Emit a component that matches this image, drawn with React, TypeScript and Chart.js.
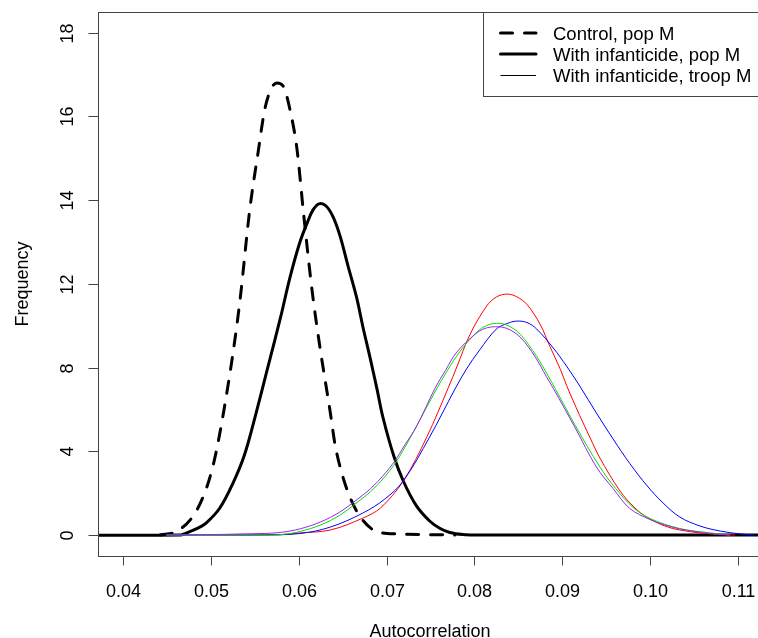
import { useEffect, useRef } from "react";
import { Chart, registerables } from "chart.js";

Chart.register(...registerables);

// ---- axis ticks ----
const xTicks = [0.04, 0.05, 0.06, 0.07, 0.08, 0.09, 0.1, 0.11];
const yTickLabels = [0, 4, 8, 12, 14, 16, 18];
const xTitle = "Autocorrelation";
const yTitle = "Frequency";
const legendLabels = ["Control, pop M", "With infanticide, pop M", "With infanticide, troop M"];

// ---- series (x = autocorrelation, y = frequency as labelled on the axis) ----
const controlX = [0.0442, 0.046, 0.0479, 0.0491, 0.05, 0.0506, 0.0514, 0.0525, 0.0533, 0.0544, 0.0554, 0.0561, 0.0569, 0.0575, 0.0582, 0.059, 0.0598, 0.0605, 0.0615, 0.0624, 0.0636, 0.0641, 0.0649, 0.0658, 0.067, 0.0689, 0.0712, 0.0778];
const controlY = [0, 0.16, 0.87, 1.83, 2.95, 4.01, 5.81, 8.7, 11.23, 13.76, 15.2, 16.15, 16.68, 16.8, 16.73, 16.15, 15.2, 13.76, 11.71, 8.98, 5.81, 4.38, 2.95, 1.83, 0.87, 0.16, 0.05, 0];

const popX = [0.03, 0.0465, 0.0471, 0.0483, 0.0494, 0.051, 0.0525, 0.0538, 0.0551, 0.0565, 0.0579, 0.059, 0.0601, 0.061, 0.0616, 0.0623, 0.0631, 0.0639, 0.0647, 0.0656, 0.0666, 0.0673, 0.0681, 0.0689, 0.0696, 0.0708, 0.0719, 0.0734, 0.0749, 0.0761, 0.0772, 0.0787, 0.0801, 0.12];
const popY = [0, 0, 0.08, 0.29, 0.56, 1.29, 2.48, 3.82, 5.78, 8.07, 10.37, 12.16, 12.98, 13.48, 13.76, 13.91, 13.86, 13.6, 13.14, 12.43, 11.32, 9.94, 8.5, 6.98, 5.59, 3.8, 2.58, 1.39, 0.67, 0.31, 0.12, 0.02, 0, 0];

const redX = [0.0449, 0.0579, 0.0601, 0.0636, 0.0673, 0.0693, 0.0719, 0.0746, 0.077, 0.078, 0.0795, 0.0814, 0.0825, 0.0837, 0.0848, 0.086, 0.0875, 0.0886, 0.0898, 0.0905, 0.092, 0.0932, 0.0943, 0.0966, 0.0983, 0.0997, 0.1017, 0.1034, 0.1057, 0.108, 0.1097];
const redY = [0, 0.02, 0.1, 0.24, 0.81, 1.29, 2.58, 4.7, 7.01, 8.03, 9.58, 10.94, 11.37, 11.51, 11.39, 11.01, 10.06, 9.01, 7.91, 7.15, 5.71, 4.63, 3.68, 2.1, 1.29, 0.84, 0.43, 0.24, 0.1, 0.02, 0];

const blueX = [0.0449, 0.0556, 0.0601, 0.0636, 0.0673, 0.0698, 0.0719, 0.0749, 0.0778, 0.0791, 0.0806, 0.0825, 0.0837, 0.0848, 0.086, 0.0871, 0.089, 0.0905, 0.092, 0.0939, 0.0958, 0.0977, 0.0997, 0.1015, 0.1034, 0.1057, 0.108, 0.1103, 0.112];
const blueY = [0, 0, 0.07, 0.38, 1.05, 1.72, 2.58, 4.68, 6.98, 7.93, 8.84, 9.84, 10.1, 10.22, 10.15, 9.84, 8.93, 8.07, 7.12, 5.83, 4.59, 3.42, 2.34, 1.53, 0.86, 0.43, 0.19, 0.05, 0];

const greenX = [0.0449, 0.0544, 0.059, 0.0636, 0.0673, 0.069, 0.0708, 0.0721, 0.0732, 0.0757, 0.0769, 0.0784, 0.0803, 0.0814, 0.0825, 0.0837, 0.0852, 0.0871, 0.0884, 0.0892, 0.0915, 0.0943, 0.0961, 0.0981, 0.1, 0.1034, 0.1069, 0.1091];
const greenY = [0, 0, 0.07, 0.69, 1.77, 2.41, 3.32, 4.2, 5.04, 6.98, 7.84, 8.79, 9.7, 10.01, 10.11, 10.03, 9.6, 8.53, 7.6, 7.0, 5.23, 3.25, 2.22, 1.31, 0.79, 0.31, 0.1, 0];

const purpleX = [0.0449, 0.0533, 0.059, 0.0636, 0.0673, 0.069, 0.0708, 0.0721, 0.0734, 0.0755, 0.0767, 0.078, 0.0801, 0.0812, 0.0824, 0.0837, 0.0852, 0.0869, 0.0882, 0.089, 0.0915, 0.0939, 0.0958, 0.0977, 0.1, 0.1017, 0.1034, 0.1069, 0.1091];
const purpleY = [0, 0.05, 0.19, 0.84, 1.91, 2.56, 3.46, 4.32, 5.18, 7.0, 7.86, 8.74, 9.6, 9.87, 9.95, 9.87, 9.46, 8.53, 7.57, 7.0, 5.11, 3.25, 2.22, 1.27, 0.74, 0.48, 0.29, 0.07, 0];

// The frequency axis is drawn with evenly spaced ticks labelled 0,4,8,12,14,16,18
function yToAxis(f: number): number {
  return f <= 12 ? f / 4 : 3 + (f - 12) / 2;
}

function pts(xs: number[], ys: number[]) {
  return xs.map((x, i) => ({ x, y: yToAxis(ys[i]) }));
}

const FONT = '18px "Liberation Sans", Arial, sans-serif';
const AXIS_COLOR = "#444";

const framePlugin = {
  id: "rframe",
  afterDraw(chart: any) {
    const { ctx, chartArea: a, scales } = chart;
    const xs = scales.x;
    const ys = scales.y;
    ctx.save();
    ctx.strokeStyle = AXIS_COLOR;
    ctx.lineWidth = 1;
    ctx.setLineDash([]);
    const L = Math.round(a.left) + 0.5;
    const T = Math.round(a.top) + 0.5;
    const R = Math.round(a.right) + 0.5;
    const B = Math.round(a.bottom) + 0.5;
    ctx.strokeRect(L, T, R - L, B - T);

    ctx.font = FONT;
    ctx.fillStyle = "#000";
    ctx.textAlign = "center";
    ctx.textBaseline = "alphabetic";

    // x ticks
    xTicks.forEach((v) => {
      const px = Math.round(xs.getPixelForValue(v)) + 0.5;
      ctx.beginPath();
      ctx.moveTo(px, B);
      ctx.lineTo(px, B + 9);
      ctx.stroke();
      ctx.fillText(v.toFixed(2), px, B + 40.5);
    });
    ctx.fillText(xTitle, (a.left + a.right) / 2, 637);

    // y ticks
    yTickLabels.forEach((v) => {
      const py = Math.round(ys.getPixelForValue(yToAxis(v))) + 0.5;
      ctx.beginPath();
      ctx.moveTo(L - 10, py);
      ctx.lineTo(L, py);
      ctx.stroke();
      ctx.save();
      ctx.translate(73, py);
      ctx.rotate(-Math.PI / 2);
      ctx.fillText(String(v), 0, 0);
      ctx.restore();
    });
    ctx.save();
    ctx.translate(28, (a.top + a.bottom) / 2);
    ctx.rotate(-Math.PI / 2);
    ctx.fillText(yTitle, 0, 0);
    ctx.restore();

    // legend
    const lx = 483.5;
    const ly = 12.5;
    ctx.fillStyle = "#fff";
    ctx.fillRect(lx, ly, 400, 84);
    ctx.strokeStyle = AXIS_COLOR;
    ctx.strokeRect(lx, ly, 400, 84);
    const rows = [33, 54, 75];
    const styles = [
      { w: 3, dash: [12, 12], off: 0 },
      { w: 3, dash: [] as number[], off: 0 },
      { w: 1, dash: [] as number[], off: 0.5 },
    ];
    ctx.font = '18.5px "Liberation Sans", Arial, sans-serif';
    rows.forEach((y, i) => {
      ctx.beginPath();
      ctx.strokeStyle = "#000";
      ctx.lineWidth = styles[i].w;
      ctx.lineCap = styles[i].w > 1 ? "round" : "butt";
      ctx.setLineDash(styles[i].dash);
      ctx.moveTo(500.5, y + styles[i].off);
      ctx.lineTo(536, y + styles[i].off);
      ctx.stroke();
      ctx.setLineDash([]);
      ctx.fillStyle = "#000";
      ctx.textAlign = "left";
      ctx.fillText(legendLabels[i], 553, y + 6.5);
    });
    ctx.restore();
  },
};

export default function App() {
  const ref = useRef<HTMLCanvasElement>(null);
  useEffect(() => {
    const thin = (label: string, color: string, xs: number[], ys: number[]) => ({
      label,
      data: pts(xs, ys),
      borderColor: color,
      borderWidth: 1,
      pointRadius: 0,
      fill: false,
      tension: 0.35,
    });
    const chart = new Chart(ref.current!, {
      type: "line",
      data: {
        datasets: [
          thin("With infanticide, troop M (purple)", "#A020F0", purpleX, purpleY),
          thin("With infanticide, troop M (green)", "#00E000", greenX, greenY),
          thin("With infanticide, troop M (blue)", "#0000FF", blueX, blueY),
          thin("With infanticide, troop M (red)", "#FF0000", redX, redY),
          {
            label: legendLabels[0],
            data: pts(controlX, controlY),
            borderColor: "#000",
            borderWidth: 3,
            borderDash: [12, 12],
            borderCapStyle: "round",
            borderJoinStyle: "round",
            pointRadius: 0,
            fill: false,
            cubicInterpolationMode: "monotone",
          },
          {
            label: legendLabels[1],
            data: pts(popX, popY),
            borderColor: "#000",
            borderWidth: 3,
            borderCapStyle: "round",
            borderJoinStyle: "round",
            pointRadius: 0,
            fill: false,
            tension: 0.35,
          },
        ],
      },
      options: {
        responsive: false,
        devicePixelRatio: 1,
        animation: false,
        layout: { padding: { left: 98, top: 12, right: 28, bottom: 82 } },
        plugins: { legend: { display: false }, tooltip: { enabled: false } },
        scales: {
          x: { type: "linear", display: false, min: 0.037117, max: 0.11277 },
          y: { type: "linear", display: false, min: -0.2508, max: 6.247 },
        },
      },
      plugins: [framePlugin],
    });
    return () => chart.destroy();
  }, []);
  return (
    <div
      style={{
        position: "fixed",
        left: 0,
        top: 0,
        width: 758,
        height: 638,
        overflow: "hidden",
        background: "#fff",
      }}
    >
      <canvas ref={ref} width={790} height={638} style={{ display: "block", width: 790, height: 638 }} />
    </div>
  );
}
